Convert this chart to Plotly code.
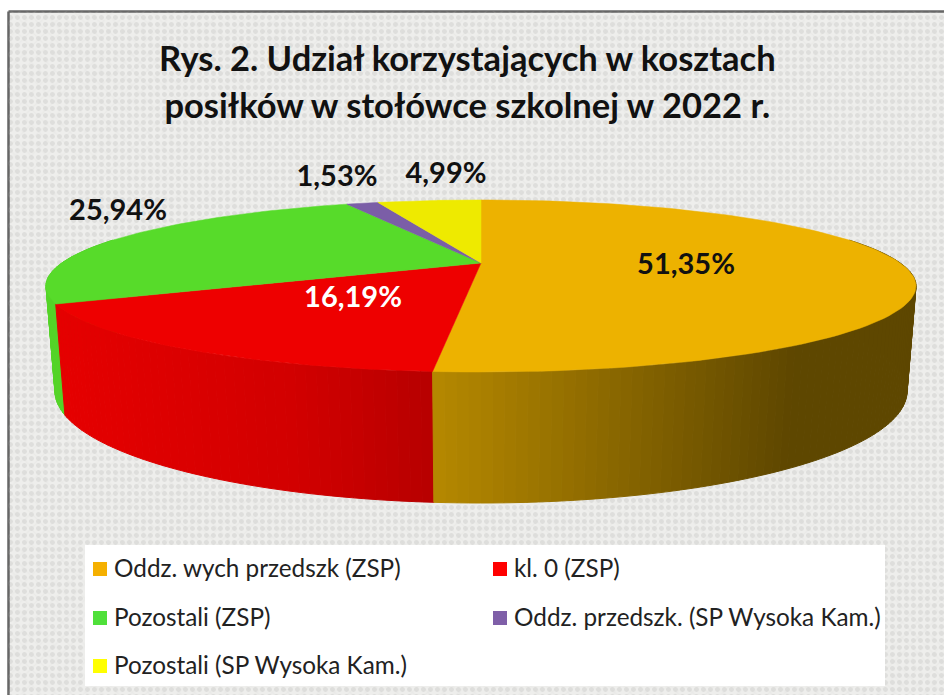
import numpy as np
import plotly.graph_objects as go

categories = ["Oddz. wych przedszk (ZSP)", "kl. 0 (ZSP)", "Pozostali (ZSP)",
              "Oddz. przedszk. (SP Wysoka Kam.)", "Pozostali (SP Wysoka Kam.)"]
shares = [51.35, 16.19, 25.94, 1.53, 4.99]
colors = ["#EDB200", "#EE0000", "#57DB2A", "#7B5EA7", "#EEEA00"]
swatch_colors = ["#F5B000", "#FF0000", "#4FE03A", "#7F5FA8", "#FFFF00"]
title_lines = ["Rys. 2. Udział korzystających w kosztach",
               "posiłków w stołówce szkolnej w 2022 r."]

# Projection of the tilted disc
CX, CY = 481.0, 263.0
A, B, K = 419.2, 79.9, 0.267
M, C = 0.0195, -100.7


def project(theta, z=0.0):
    x, y = np.sin(theta), np.cos(theta)
    d = 1 + K * y + M * z
    return CX + A * x / d, CY - (B * y + C * z) / d


def shade(px):
    """Side-wall brightness as a function of horizontal position."""
    return np.interp(px, [50, 300, 432, 790, 920], [0.97, 0.88, 0.77, 0.40, 0.40])


def scaled(hex_color, t):
    r, g, b = (int(hex_color[i:i + 2], 16) for i in (1, 3, 5))
    return f"rgb({int(r * t)},{int(g * t)},{int(b * t)})"


fig = go.Figure()

# Textured background panel: two overlaid low-contrast patterns
frame_x = [8.5, 950, 950, 8.5, 8.5]
frame_y = [11.5, 11.5, 700, 700, 11.5]
fig.add_trace(go.Scatter(
    x=frame_x, y=frame_y, mode="lines",
    fill="toself", line=dict(color="#666666", width=2.5),
    fillcolor="#ebebe9",
    fillpattern=dict(shape=".", bgcolor="#eeeeec", fgcolor="#dededc",
                     size=7, solidity=0.4, fillmode="replace"),
    hoverinfo="skip", showlegend=False))
fig.add_trace(go.Scatter(
    x=frame_x, y=frame_y, mode="none", fill="toself",
    fillcolor="rgba(0,0,0,0)",
    fillpattern=dict(shape="x", fgcolor="rgba(215,215,213,0.45)", bgcolor="rgba(0,0,0,0)",
                     size=11, solidity=0.2, fillmode="overlay"),
    hoverinfo="skip", showlegend=False))

edges = np.concatenate([[0], np.cumsum(shares)]) / sum(shares) * 2 * np.pi

# Side wall, drawn back to front
for i in range(len(shares) - 1, -1, -1):
    lo, hi = edges[i], edges[i + 1]
    n = max(2, int((hi - lo) / np.radians(1.2)))
    ts = np.linspace(lo, hi, n + 1)
    for t0, t1 in zip(ts[:-1], ts[1:]):
        if np.cos((t0 + t1) / 2) > 0.3:
            continue
        arc = np.linspace(t0, t1, 3)
        xt, yt = project(arc, 0)
        xb, yb = project(arc[::-1], 1)
        col = scaled(colors[i], shade((xt.mean() + xb.mean()) / 2))
        fig.add_trace(go.Scatter(
            x=np.r_[xt, xb, xt[0]], y=np.r_[yt, yb, yt[0]], mode="lines",
            fill="toself", fillcolor=col, line=dict(color=col, width=1),
            hoverinfo="skip", showlegend=False))

# Top face
for i, name in enumerate(categories):
    arc = np.linspace(edges[i], edges[i + 1], 120)
    xt, yt = project(arc, 0)
    fig.add_trace(go.Scatter(
        x=np.r_[CX, xt, CX], y=np.r_[CY, yt, CY], mode="lines", fill="toself",
        fillcolor=colors[i], line=dict(color=colors[i], width=0.5),
        name=name, hoverinfo="name", showlegend=False))

# Percentage labels
label_pos = [(686, 267), (353, 300), (118, 213), (337, 179), (446, 176)]
label_col = ["#111111", "#ffffff", "#111111", "#111111", "#111111"]
fig.add_trace(go.Scatter(
    x=[p[0] for p in label_pos], y=[p[1] for p in label_pos], mode="text",
    text=[f"{v:.2f}%".replace(".", ",") for v in shares],
    textfont=dict(family="Lato", size=29, color=label_col, weight="bold"),
    hoverinfo="skip", showlegend=False))

# Legend
fig.add_trace(go.Scatter(
    x=[85, 885, 885, 85, 85], y=[545, 545, 686, 686, 545], mode="lines",
    fill="toself", fillcolor="#ffffff", line=dict(width=0),
    hoverinfo="skip", showlegend=False))
leg_x = [100, 500, 100, 500, 100]
leg_y = [569, 569, 618, 618, 666]
fig.add_trace(go.Scatter(
    x=leg_x, y=leg_y, mode="markers",
    marker=dict(symbol="square", size=14, color=swatch_colors),
    hoverinfo="skip", showlegend=False))
fig.add_trace(go.Scatter(
    x=[x + 14 for x in leg_x], y=[y + 2 for y in leg_y], mode="text", text=categories,
    textposition="middle right",
    textfont=dict(family="Lato", size=24.3, color="#222222"),
    hoverinfo="skip", showlegend=False))

fig.update_layout(
    width=944, height=695, autosize=False,
    margin=dict(l=0, r=0, t=0, b=0),
    paper_bgcolor="#ffffff", plot_bgcolor="#ffffff",
    title=dict(
        text="<br>".join(f'<span style="font-size:34.5px">{t}</span>' for t in title_lines),
        font=dict(family="Lato", size=36.5, color="#111111", weight="bold"),
        x=0.495, xanchor="center", y=0.898, yanchor="middle", automargin=False),
    xaxis=dict(range=[0, 944], visible=False, fixedrange=True),
    yaxis=dict(range=[695, 0], visible=False, fixedrange=True),
)
fig.write_html("out.html", config={"displayModeBar": False},
               post_script="document.body.style.margin='0';")
